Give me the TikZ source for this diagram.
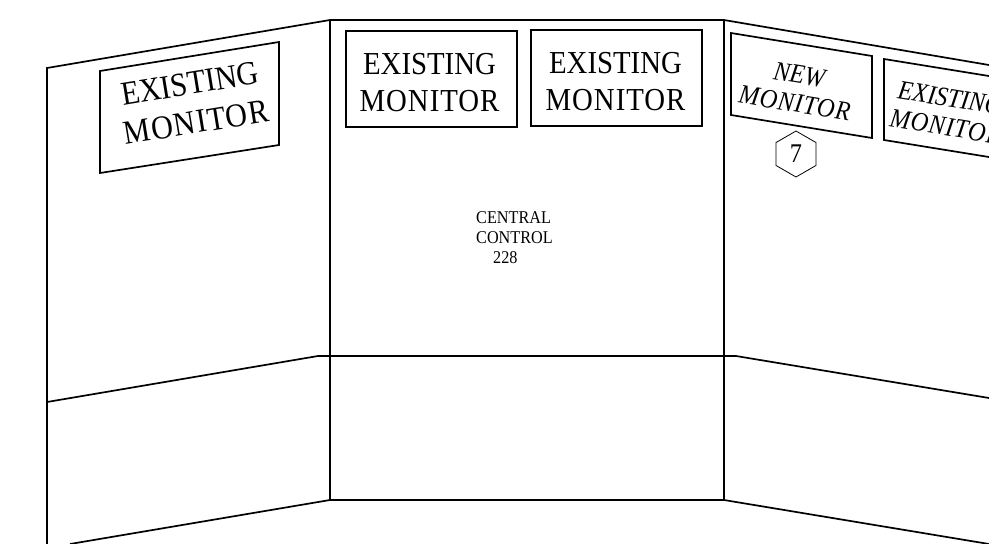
\documentclass[tikz,border=0pt]{standalone}
\usepackage{fontspec}
\setmainfont[FakeStretch=0.9]{Liberation Serif}
\newcommand{\monword}{{\addfontfeature{LetterSpace=3}MONITOR}}
\tikzset{
    wall/.style={line width=1.7pt, line join=miter},
    screen/.style={line width=1.7pt},
    hexmark/.style={regular polygon, regular polygon sides=6, shape border rotate=90, draw, line width=0.8pt,
        minimum size=46pt, inner sep=0pt, font=\fontsize{27}{27}\selectfont},
    bigtext/.style={align=center, inner sep=0pt, font=\fontsize{32}{37}\selectfont},
    sidetext/.style={align=center, inner sep=0pt, font=\fontsize{27}{29}\selectfont\itshape}
}
\usetikzlibrary{shapes.geometric}

\begin{document}
\begin{tikzpicture}[x=1pt,y=-1pt]
    \useasboundingbox (0,0) rectangle (989,544);
    \clip (0,0) rectangle (989,544);

    % wall corners
    \coordinate (ltop) at (47,68);
    \coordinate (lmid) at (47,402);
    \coordinate (lbot) at (47,544);
    \coordinate (ctopl) at (330,20);
    \coordinate (cmidl) at (330,356);
    \coordinate (cbotl) at (330,500);
    \coordinate (ctopr) at (724,20);
    \coordinate (cmidr) at (724,356);
    \coordinate (cbotr) at (724,500);

    % walls
    \draw[wall] (lbot) -- (ltop) -- (ctopl) -- (ctopr) -- (989,65);
    \draw[wall] (ctopl) -- (cbotl);
    \draw[wall] (ctopr) -- (cbotr);
    \draw[wall] (lmid) -- (318,356) -- (736,356) -- (989,398);
    \draw[wall] (70,544) -- (cbotl) -- (cbotr) -- (989,544);

    % monitors
    \draw[screen] (100,71) -- (279,42) -- (279,145) -- (100,173) -- cycle;
    \draw[screen] (346,31) rectangle (517,127);
    \draw[screen] (531,30) rectangle (702,126);
    \draw[screen] (731,33) -- (872,56) -- (872,138) -- (731,115) -- cycle;
    \draw[screen] (995,77) -- (884,59) -- (884,140) -- (995,158);

    \node[bigtext, rotate=9.3, font=\fontsize{33.5}{39}\selectfont] (leftmon) at (193,103) {EXISTING\\\monword};
    \node[bigtext] (midmon) at (429.5,82.5) {EXISTING\\\monword};
    \node[bigtext] (rightmon) at (615.5,82) {EXISTING\\\monword};
    \node[sidetext, rotate=-9.3] (newmon) at (797,89) {NEW\\\monword};
    \node[sidetext, rotate=-9.3] (farmon) at (948,112.5) {EXISTING\\\monword};

    \node[hexmark] (seven) at (796,154) {7};

    \node[anchor=west, align=left, inner sep=0pt, font=\fontsize{18}{20}\selectfont] (control) at (476,238)
        {CENTRAL\\CONTROL\\\hspace{17pt}228};
\end{tikzpicture}
\end{document}
